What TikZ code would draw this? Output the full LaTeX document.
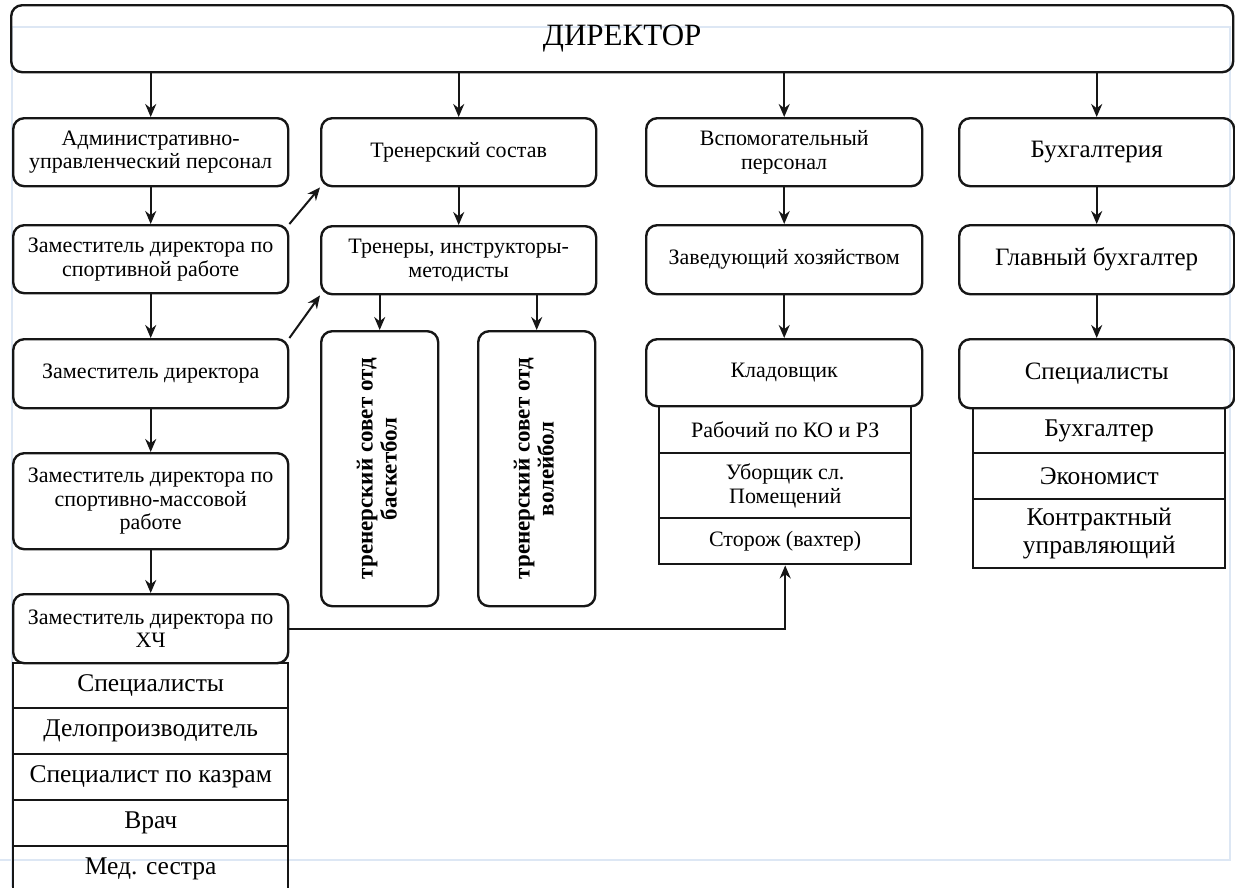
\documentclass[tikz,border=0pt]{standalone}
\usepackage{fontspec}
\setmainfont{Liberation Serif}
\usetikzlibrary{arrows.meta,positioning}
\definecolor{ink}{HTML}{161616}
\definecolor{guide}{HTML}{DDE7F4}
\newcommand{\fsz}[1]{\fontsize{#1}{1.08\dimexpr#1pt\relax}\selectfont}
\tikzset{
  rbox/.style={draw=ink, rounded corners=11pt, align=center, anchor=north west,
               line width=2.4pt, minimum width=275pt, inner sep=2pt, font=\fsz{22}},
  sbox/.style={draw=ink, align=center, anchor=north west, line width=2.4pt,
               inner sep=2pt, font=\fsz{25.5}},
  arr/.style={-{Stealth[length=13pt,width=11pt]}, line width=2pt, color=ink},
}

\begin{document}
\begin{tikzpicture}[x=1pt, y=-1pt,
      vbox/.style={rbox, minimum width=117pt, minimum height=275pt,
                   font=\fontsize{23}{24}\selectfont\bfseries}]
    \useasboundingbox (0,0) rectangle (1235,887);
    % faint page guides
    \draw[guide, line width=1.2pt] (12,887) -- (12,27) -- (1230,27) -- (1230,860) -- (0,860);

    \node[rbox, minimum width=1222pt, minimum height=67pt, font=\fsz{31}] (dir) at (10,4) {ДИРЕКТОР};

    % column 1
    \node[rbox, minimum height=68pt] (adm) at (12,117) {Административно-\\управленческий персонал};
    \node[rbox, minimum height=68pt] (zsp) at (12,224) {Заместитель директора по\\спортивной работе};
    \node[rbox, minimum height=69pt] (zam) at (12,338) {Заместитель директора};
    \node[rbox, minimum height=96pt] (zsm) at (12,452) {Заместитель директора по\\спортивно-массовой\\работе};
    \node[rbox, minimum height=69pt] (zhch) at (12,593) {Заместитель директора по\\[-1pt]ХЧ};
    \node[sbox, minimum width=275pt, minimum height=45pt] (spc1) at (12,662) {Специалисты};
    \node[sbox, minimum width=275pt, minimum height=46pt] (dlp) at (12,707) {Делопроизводитель};
    \node[sbox, minimum width=275pt, minimum height=46pt] (kdr) at (12,753) {Специалист по казрам};
    \node[sbox, minimum width=275pt, minimum height=46pt] (vrc) at (12,799) {Врач};
    \node[sbox, minimum width=275pt, minimum height=46pt] (mds) at (12,845) {Мед. сестра};

    % column 2
    \node[rbox, minimum height=68pt] (trs) at (320,117) {Тренерский состав};
    \node[rbox, minimum height=68pt] (trn) at (320,225) {Тренеры, инструкторы-\\методисты};
    \node[vbox] (bsk) at (320,330) {\rotatebox{90}{\begin{tabular}{@{}c@{}}тренерский совет отд\\баскетбол\end{tabular}}};
    \node[vbox] (vol) at (477,330) {\rotatebox{90}{\begin{tabular}{@{}c@{}}тренерский совет отд\\волейбол\end{tabular}}};

    % column 3
    \node[rbox, minimum width=276pt, minimum height=68pt] (vsp) at (645,117) {Вспомогательный\\персонал};
    \node[rbox, minimum width=276pt, minimum height=69pt] (zav) at (645,224) {Заведующий хозяйством};
    \node[rbox, minimum width=276pt, minimum height=67pt] (kld) at (645,338) {Кладовщик};
    \node[sbox, minimum width=252pt, minimum height=47pt, font=\fsz{22}] (rab) at (658,405) {Рабочий по КО и РЗ};
    \node[sbox, minimum width=252pt, minimum height=65pt, font=\fsz{22}] (ubr) at (658,452) {Уборщик сл.\\Помещений};
    \node[sbox, minimum width=252pt, minimum height=46pt, font=\fsz{22}] (str) at (658,517) {Сторож (вахтер)};

    % column 4
    \node[rbox, minimum height=68pt, font=\fsz{25}] (buh) at (958,117) {Бухгалтерия};
    \node[rbox, minimum height=69pt, font=\fsz{25}] (gbh) at (958,224) {Главный бухгалтер};
    \node[rbox, minimum height=69pt, font=\fsz{25}] (spc4) at (958,338) {Специалисты};
    \node[sbox, minimum width=252pt, minimum height=45pt] (bhg) at (972,407) {Бухгалтер};
    \node[sbox, minimum width=252pt, minimum height=46pt] (eko) at (972,452) {Экономист};
    \node[sbox, minimum width=252pt, minimum height=69pt] (kon) at (972,498) {Контрактный\\управляющий};

    % connectors
    \foreach \n in {adm,trs,vsp,buh}
      \draw[arr] (\n.north |- dir.south) -- (\n.north);
    \draw[arr] (adm.south) -- (zsp.north);
    \draw[arr] (zsp.south) -- (zam.north);
    \draw[arr] (zam.south) -- (zsm.north);
    \draw[arr] (zsm.south) -- (zhch.north);
    \draw[arr] (trs.south) -- (trn.north);
    \draw[arr] (trn.south -| bsk.north) -- (bsk.north);
    \draw[arr] (trn.south -| vol.north) -- (vol.north);
    \draw[arr] (vsp.south) -- (zav.north);
    \draw[arr] (zav.south) -- (kld.north);
    \draw[arr] (buh.south) -- (gbh.north);
    \draw[arr] (gbh.south) -- (spc4.north);
    \draw[arr] (zsp.north east) -- (trs.south west);
    \draw[arr] (zam.north east) -- (trn.south west);
    \draw[arr] (zhch.east) -| (str.south);
\end{tikzpicture}
\end{document}
